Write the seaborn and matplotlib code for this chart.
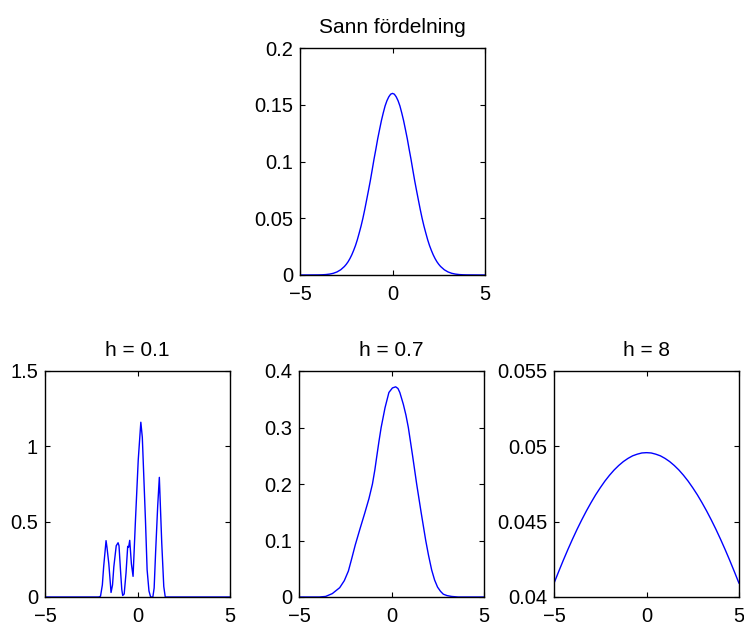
import matplotlib
matplotlib.use("Agg")
import matplotlib.pyplot as plt
import seaborn as sns
import pandas as pd

# True density ("Sann fördelning")
true_x = [-5, -4.0, -3.8, -3.6, -3.4, -3.2, -3.0, -2.8, -2.6, -2.5, -2.4, -2.3, -2.2, -2.1,
          -2.0, -1.9, -1.8, -1.7, -1.6, -1.5, -1.4, -1.3, -1.2, -1.1, -1.0, -0.9, -0.8,
          -0.7, -0.6, -0.5, -0.4, -0.3, -0.2, -0.1, 0.0, 0.1, 0.2, 0.3, 0.4, 0.5, 0.6,
          0.7, 0.8, 0.9, 1.0, 1.1, 1.2, 1.3, 1.4, 1.5, 1.6, 1.7, 1.8, 1.9, 2.0, 2.1,
          2.2, 2.3, 2.4, 2.5, 2.6, 2.8, 3.0, 3.2, 3.4, 3.6, 3.8, 4.0, 5]
true_y = [0.0, 0.0001, 0.0002, 0.0004, 0.0008, 0.0015, 0.0027, 0.0046, 0.0075, 0.0094,
          0.0117, 0.0145, 0.0178, 0.0217, 0.026, 0.0311, 0.037, 0.0431, 0.050, 0.0577,
          0.066, 0.0744, 0.083, 0.0924, 0.102, 0.1108, 0.120, 0.1281, 0.136, 0.1428,
          0.149, 0.1536, 0.157, 0.1593, 0.160, 0.1593, 0.157, 0.1536, 0.149, 0.1428,
          0.136, 0.1281, 0.120, 0.1108, 0.102, 0.0924, 0.083, 0.0744, 0.066, 0.0577,
          0.050, 0.0431, 0.037, 0.0311, 0.026, 0.0217, 0.0178, 0.0145, 0.0117, 0.0094,
          0.0075, 0.0046, 0.0027, 0.0015, 0.0008, 0.0004, 0.0002, 0.0001, 0.0]

# Kernel estimate, h = 0.1
h01_x = [-5, -2.1, -2.0, -1.9, -1.83, -1.7, -1.65, -1.55, -1.43, -1.35, -1.28, -1.15, -1.1,
         -1.05, -1.0, -0.92, -0.85, -0.8, -0.72, -0.62, -0.53, -0.48, -0.42, -0.33, -0.24,
         -0.11, 0.04, 0.18, 0.26, 0.43, 0.52, 0.62, 0.71, 0.83, 0.9, 0.98, 1.09, 1.18,
         1.31, 1.42, 1.5, 5]
h01_y = [0.0, 0.0, 0.005, 0.08, 0.20, 0.374, 0.33, 0.22, 0.03, 0.08, 0.20, 0.34, 0.35,
         0.36, 0.34, 0.18, 0.05, 0.01, 0.02, 0.16, 0.336, 0.33, 0.376, 0.22, 0.137,
         0.51, 0.91, 1.16, 1.06, 0.51, 0.18, 0.04, 0.0, 0.0, 0.06, 0.30, 0.60, 0.794,
         0.36, 0.07, 0.0, 0.0]

# Kernel estimate, h = 0.7
h07_x = [-5, -3.9, -3.56, -3.2, -2.8, -2.55, -2.33, -2.15, -1.96, -1.7, -1.45, -1.22,
         -1.03, -0.9, -0.8, -0.68, -0.56, -0.35, -0.14, 0.05, 0.225, 0.35, 0.45, 0.64,
         0.78, 0.91, 1.14, 1.36, 1.6, 1.85, 2.0, 2.17, 2.33, 2.49, 2.65, 2.8, 3.0, 3.25,
         3.6, 5]
h07_y = [0.0, 0.0, 0.001, 0.006, 0.0165, 0.029, 0.046, 0.068, 0.092, 0.121, 0.148, 0.174,
         0.20, 0.225, 0.248, 0.275, 0.30, 0.335, 0.362, 0.370, 0.372, 0.369, 0.362, 0.341,
         0.322, 0.30, 0.25, 0.20, 0.15, 0.10, 0.074, 0.048, 0.03, 0.0175, 0.010, 0.005,
         0.0025, 0.001, 0.0, 0.0]

# Kernel estimate, h = 8
h8_x = [-5.0, -4.75, -4.5, -4.25, -4.0, -3.75, -3.5, -3.25, -3.0, -2.75, -2.5, -2.25,
        -2.0, -1.75, -1.5, -1.25, -1.0, -0.75, -0.5, -0.25, 0.0, 0.25, 0.5, 0.75, 1.0,
        1.25, 1.5, 1.75, 2.0, 2.25, 2.5, 2.75, 3.0, 3.25, 3.5, 3.75, 4.0, 4.25, 4.5,
        4.75, 5.0]
h8_y = [0.04091, 0.04168, 0.04243, 0.04315, 0.04384, 0.04450, 0.04512, 0.04571, 0.04626,
        0.04678, 0.04725, 0.04769, 0.04808, 0.04843, 0.04873, 0.04899, 0.04920, 0.04937,
        0.04948, 0.04956, 0.04958, 0.04956, 0.04948, 0.04937, 0.04920, 0.04899, 0.04873,
        0.04843, 0.04808, 0.04769, 0.04725, 0.04678, 0.04626, 0.04571, 0.04512, 0.04450,
        0.04384, 0.04315, 0.04243, 0.04168, 0.04091]

x_ticks = [-5, 0, 5]
x_labels = ["\u22125", "0", "5"]
true_ticks = [0, 0.05, 0.1, 0.15, 0.2]
true_labels = ["0", "0.05", "0.1", "0.15", "0.2"]
h01_ticks = [0, 0.5, 1, 1.5]
h01_labels = ["0", "0.5", "1", "1.5"]
h07_ticks = [0, 0.1, 0.2, 0.3, 0.4]
h07_labels = ["0", "0.1", "0.2", "0.3", "0.4"]
h8_ticks = [0.04, 0.045, 0.05, 0.055]
h8_labels = ["0.04", "0.045", "0.05", "0.055"]

sns.set_theme(style="ticks")
plt.rcParams["font.family"] = ["Liberation Sans", "DejaVu Sans"]
plt.rcParams["text.color"] = "black"

fig = plt.figure(figsize=(7.44, 6.26), dpi=100)
fig.patch.set_facecolor("white")

W, H = 744, 626


def make_axes(left, top, right, bottom):
    return fig.add_axes([left / W, 1 - bottom / H, (right - left) / W, (bottom - top) / H])


panels = [
    (make_axes(300, 48, 485, 275), true_x, true_y, "Sann fördelning", (0, 0.2), true_ticks, true_labels),
    (make_axes(45, 371, 230, 597), h01_x, h01_y, "h = 0.1", (0, 1.5), h01_ticks, h01_labels),
    (make_axes(299, 371, 484, 597), h07_x, h07_y, "h = 0.7", (0, 0.4), h07_ticks, h07_labels),
    (make_axes(554, 371, 739, 597), h8_x, h8_y, "h = 8", (0.04, 0.055), h8_ticks, h8_labels),
]

for ax, xs, ys, title, ylim, yt, yl in panels:
    df = pd.DataFrame({"x": xs, "y": ys})
    sns.lineplot(data=df, x="x", y="y", ax=ax, color="#0000ff", linewidth=1.0,
                 estimator=None, sort=False)
    ax.set_xlim(-5, 5)
    ax.set_ylim(*ylim)
    ax.set_xticks(x_ticks)
    ax.set_xticklabels(x_labels)
    ax.set_yticks(yt)
    ax.set_yticklabels(yl)
    ax.set_xlabel("")
    ax.set_ylabel("")
    ax.set_title(title, fontsize=15, pad=11, color="black")
    ax.tick_params(direction="in", length=3.5, width=0.8, top=True, right=True,
                   labelsize=14.5, colors="black")
    ax.tick_params(axis="x", pad=7)
    ax.tick_params(axis="y", pad=5)
    for s in ax.spines.values():
        s.set_visible(True)
        s.set_color("black")
        s.set_linewidth(1.0)
    ax.set_facecolor("white")

fig.savefig("out.png", dpi=100, facecolor="white")
